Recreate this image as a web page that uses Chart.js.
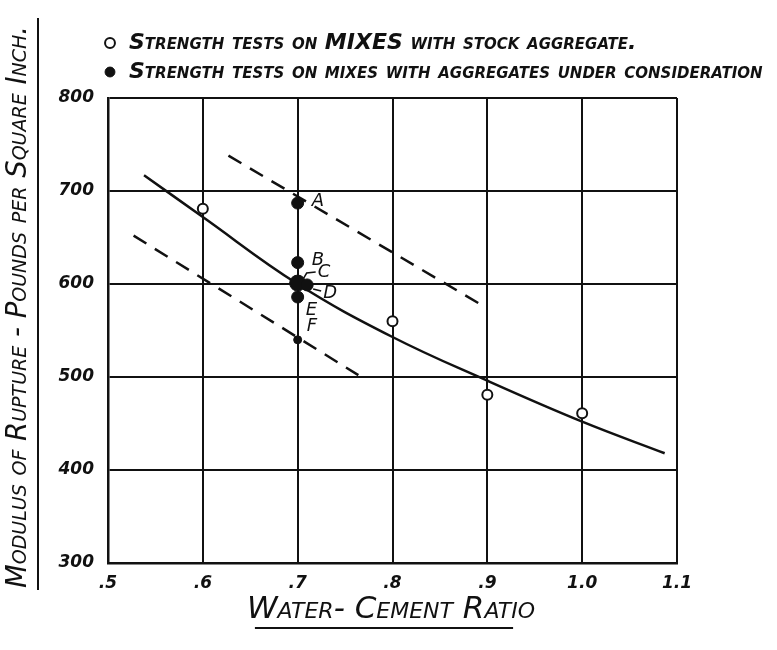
<!DOCTYPE html>
<html>
<head>
<meta charset="utf-8">
<script src="https://cdn.jsdelivr.net/npm/chart.js@4"></script>
<style>
  body { margin: 0; background: #fff; }
  .wrap { width: 777px; height: 650px; }
</style>
</head>
<body>
<div class="wrap"><canvas id="chart"></canvas></div>
<script>
// tick labels on the water-cement axis
const xTickLabels = ['.5', '.6', '.7', '.8', '.9', '1.0', '1.1'];

// open circles: stock aggregate
const stockRatio = [0.6, 0.7, 0.8, 0.9, 1.0];
const stockStrength = [681, 600, 560, 481, 461];

// filled circles: aggregates under consideration
const testLabels = ['A', 'B', 'C', 'D', 'E', 'F'];
const testRatio = [0.7, 0.7, 0.7, 0.71, 0.7, 0.7];
const testStrength = [687, 623, 601, 599, 586, 540];

// solid curve
const curveRatio = [0.538, 0.6, 0.7, 0.8, 0.9, 1.0, 1.087];
const curveStrength = [717, 672, 600, 543, 496, 452, 418];

// dashed limits
const upperRatio = [0.627, 0.898];
const upperStrength = [738, 575];
const lowerRatio = [0.527, 0.764];
const lowerStrength = [652, 502];

const pts = (xs, ys) => xs.map((x, i) => ({ x: x, y: ys[i] }));

const hand = "'DejaVu Sans', sans-serif";
const ink = '#111';
const LEG = 22;

const PAD = { left: 4, right: 100, top: 25, bottom: 4 };
const AREA = { left: 108, right: 677, top: 98, bottom: 563 };

// legend box starts over the plot and may run past its right edge
const legendBox = {
    id: 'legendBox',
    afterLayout(chart) {
        chart.legend.left = 95;
        chart.legend.right = 777;
        chart.legend.width = 777 - 95;
    }
};

// titles, underlines and letter labels
const decor = {
    id: 'decor',
    afterDraw(chart) {
        const ctx = chart.ctx;
        ctx.save();
        ctx.fillStyle = ink;
        ctx.strokeStyle = ink;
        ctx.textAlign = 'center';
        ctx.textBaseline = 'middle';

        // y title
        ctx.font = 'italic small-caps 27.5px ' + hand;
        const yTitle = 'Modulus of Rupture - Pounds per Square Inch.';
        const yw = ctx.measureText(yTitle).width;
        ctx.save();
        ctx.translate(19, 307);
        ctx.rotate(-Math.PI / 2);
        ctx.fillText(yTitle, 0, 0);
        ctx.restore();
        ctx.lineWidth = 2;
        ctx.beginPath();
        ctx.moveTo(38, 307 - yw / 2 - 8);
        ctx.lineTo(38, 307 + yw / 2 + 2);
        ctx.stroke();

        // x title
        ctx.font = 'italic small-caps 31px ' + hand;
        const xTitle = 'Water- Cement Ratio';
        const xw = ctx.measureText(xTitle).width;
        ctx.fillText(xTitle, 391, 610);
        ctx.beginPath();
        ctx.moveTo(391 - xw / 2 + 8, 628);
        ctx.lineTo(391 + xw / 2 - 22, 628);
        ctx.stroke();

        // letters beside the test points
        const meta = chart.getDatasetMeta(1);
        const offs = [[14, -2], [14, -2], [20, -11], [16, 8], [8, 13], [9, -13]];
        ctx.font = 'italic 18px ' + hand;
        ctx.textAlign = 'left';
        meta.data.forEach((p, i) => {
            ctx.fillText(testLabels[i], p.x + offs[i][0], p.y + offs[i][1]);
        });
        // little leaders for C and D
        const c = meta.data[2], d = meta.data[3];
        ctx.lineWidth = 1.5;
        ctx.beginPath();
        ctx.moveTo(c.x + 6, c.y - 5);
        ctx.lineTo(c.x + 9, c.y - 10);
        ctx.lineTo(c.x + 18, c.y - 11);
        ctx.moveTo(d.x + 6, d.y + 4);
        ctx.lineTo(d.x + 14, d.y + 6);
        ctx.stroke();
        ctx.restore();
    }
};

const ctx = document.getElementById('chart').getContext('2d');

new Chart(ctx, {
    type: 'scatter',
    data: {
        datasets: [
            {
                label: 'Strength tests on MIXES with stock aggregate.',
                data: pts(stockRatio, stockStrength),
                pointStyle: 'circle',
                pointRadius: 5,
                backgroundColor: '#fff',
                borderColor: ink,
                borderWidth: 2,
                order: 1
            },
            {
                label: 'Strength tests on mixes with aggregates under consideration',
                data: pts(testRatio, testStrength),
                pointStyle: 'circle',
                pointRadius: [6, 6, 8, 6, 6, 4],
                backgroundColor: ink,
                borderColor: ink,
                borderWidth: 1,
                order: 0
            },
            {
                label: 'curve',
                data: pts(curveRatio, curveStrength),
                showLine: true,
                borderColor: ink,
                borderWidth: 2.5,
                pointRadius: 0,
                tension: 0.4,
                order: 2
            },
            {
                label: 'upper',
                data: pts(upperRatio, upperStrength),
                showLine: true,
                borderColor: ink,
                borderWidth: 2.5,
                borderDash: [15, 10],
                pointRadius: 0,
                order: 2
            },
            {
                label: 'lower',
                data: pts(lowerRatio, lowerStrength),
                showLine: true,
                borderColor: ink,
                borderWidth: 2.5,
                borderDash: [15, 10],
                pointRadius: 0,
                order: 2
            }
        ]
    },
    options: {
        responsive: true,
        maintainAspectRatio: false,
        animation: false,
        layout: { padding: PAD },
        plugins: {
            tooltip: { enabled: false },
            legend: {
                display: true,
                position: 'top',
                align: 'start',
                labels: {
                    usePointStyle: true,
                    boxWidth: 16,
                    boxHeight: 7,
                    padding: 7,
                    color: ink,
                    font: { family: hand, size: LEG, style: 'italic', weight: 'small-caps bold' },
                    filter: (item) => item.datasetIndex < 2,
                    sort: (a, b) => a.datasetIndex - b.datasetIndex
                }
            }
        },
        scales: {
            x: {
                type: 'linear',
                min: 0.5,
                max: 1.1,
                afterFit: (s) => { s.height = 650 - AREA.bottom - PAD.bottom; },
                ticks: {
                    stepSize: 0.1,
                    color: ink,
                    padding: 10,
                    font: { family: hand, size: 17, style: 'italic', weight: 'bold' },
                    callback: (v, i) => xTickLabels[i]
                },
                grid: { color: ink, lineWidth: 2, drawTicks: false },
                border: { color: ink, width: 2.5 }
            },
            // empty band between the legend and the plot
            xTop: {
                type: 'linear',
                position: 'top',
                afterFit: (s) => { s.height = AREA.top - PAD.top - s.chart.legend.height; },
                ticks: { display: false },
                grid: { display: false },
                border: { display: false }
            },
            y: {
                min: 300,
                max: 800,
                afterFit: (s) => { s.width = AREA.left - PAD.left; },
                ticks: {
                    stepSize: 100,
                    color: ink,
                    padding: 14,
                    font: { family: hand, size: 17, style: 'italic', weight: 'bold' }
                },
                grid: { color: ink, lineWidth: 2, drawTicks: false },
                border: { color: ink, width: 2.5 }
            }
        }
    },
    plugins: [legendBox, decor]
});
</script>
</body>
</html>
